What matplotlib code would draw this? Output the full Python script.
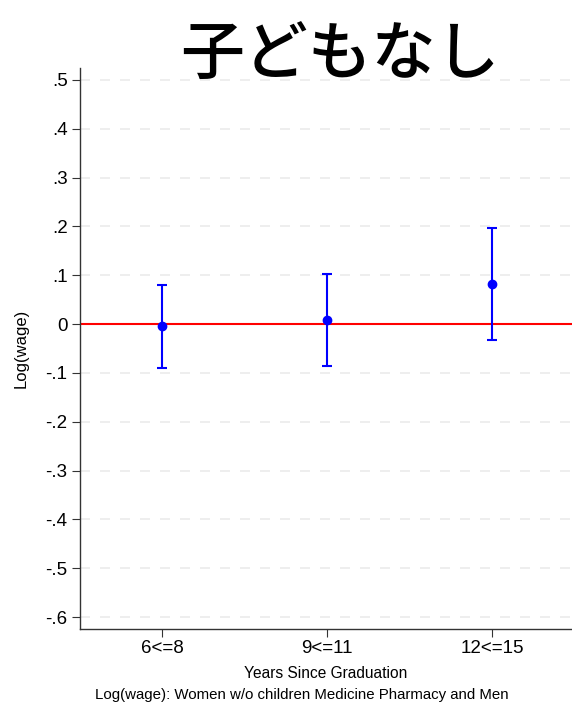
import numpy as np
import matplotlib.pyplot as plt

plt.rcParams['font.family'] = ['Liberation Sans', 'Noto Sans CJK JP', 'DejaVu Sans']

categories = ['6<=8', '9<=11', '12<=15']
coef = [-0.004, 0.008, 0.082]
ci_low = [-0.090, -0.086, -0.033]
ci_high = [0.080, 0.102, 0.196]
yticks = [0.5, 0.4, 0.3, 0.2, 0.1, 0.0, -0.1, -0.2, -0.3, -0.4, -0.5, -0.6]
ytick_labels = ['.5', '.4', '.3', '.2', '.1', '0', '-.1', '-.2', '-.3', '-.4', '-.5', '-.6']

fig = plt.figure(figsize=(5.72, 7.05), dpi=100)
ax = fig.add_axes([80/572, 1 - 629/705, 492/572, (629 - 68)/705])

x = np.arange(1, len(categories) + 1)
coef = np.array(coef)
err = [coef - np.array(ci_low), np.array(ci_high) - coef]

for t in yticks:
    ax.axhline(t, color='#ebebeb', lw=1.2, ls=(0, (6, 6)), zorder=0)
ax.axhline(0, color='red', lw=1.5, zorder=1)
ax.errorbar(x, coef, yerr=err, fmt='o', color='blue', ms=6, lw=1.5,
            capsize=3.5, capthick=1.5, zorder=3)

ax.set_xlim(0.503, 3.485)
ax.set_ylim(-0.6245, 0.5245)
ax.set_xticks(x)
ax.set_xticklabels(categories, fontsize=13.5)
ax.set_yticks(yticks)
ax.set_yticklabels(ytick_labels, fontsize=13.5)
ax.tick_params(axis='both', direction='out', length=6, width=0.8, color='#333333')
ax.tick_params(axis='x', pad=2)
ax.tick_params(axis='y', pad=3)
ax.spines['right'].set_visible(False)
ax.spines['top'].set_visible(False)
for s in ['left', 'bottom']:
    ax.spines[s].set_color('#333333')
    ax.spines[s].set_linewidth(1.0)

ax.set_ylabel('Log(wage)', fontsize=12, labelpad=12)
ax.set_xlabel('Years Since Graduation', fontsize=11.2, labelpad=6.5)

fig.text(340/572, 1 - 56/705, '子どもなし', fontsize=46, ha='center', va='center',
         fontweight='medium', family=['Noto Sans CJK JP', 'DejaVu Sans'])
fig.text(302/572, 1 - 695/705, 'Log(wage): Women w/o children Medicine Pharmacy and Men',
         fontsize=10.8, ha='center', va='center')

fig.savefig('out.png', dpi=100)
